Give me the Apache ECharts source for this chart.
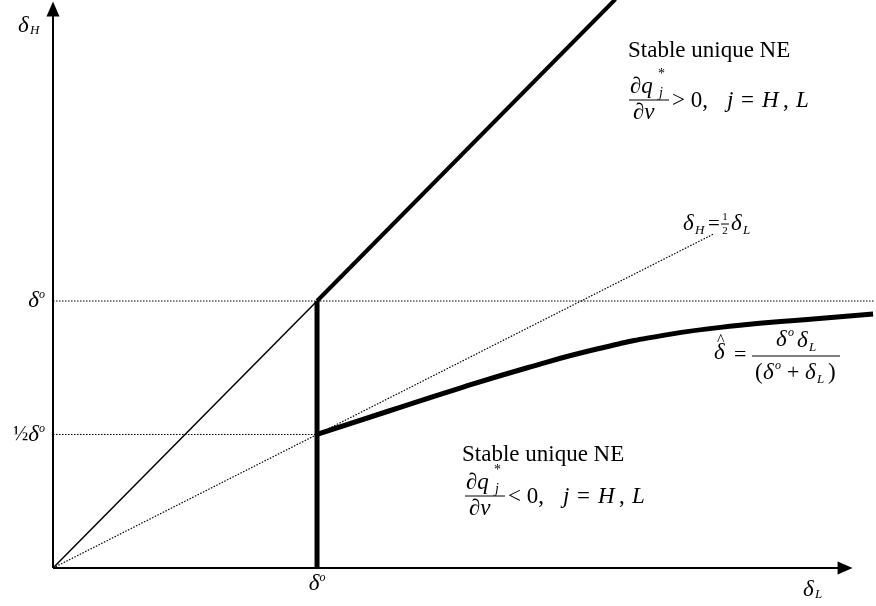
<!DOCTYPE html>
<html>
<head>
<meta charset="utf-8">
<script src="https://cdn.jsdelivr.net/npm/echarts@6/dist/echarts.min.js"></script>
<style>
  html, body { margin: 0; padding: 0; background: #fff; }
  #box { width: 876px; height: 606px; }
</style>
</head>
<body>
<div id="box"></div>
<script>
var mychart = echarts.init(document.getElementById("box"));

// data units: delta-o = 1
var diagThin = [[0, 0], [1, 1]];
var diagThick = [[1, 1], [2.13, 2.13]];
var halfLine = [[0, 0], [2.5, 1.25]];
var levelOne = [[0, 1], [3.11, 1]];
var levelHalf = [[0, 0.5], [1, 0.5]];
var wall = [[1, 0], [1, 1]];
var curveL = [1.0, 1.272, 1.536, 1.8, 2.064, 2.328, 2.592, 2.857, 3.106];
var curveH = [0.5, 0.588, 0.672, 0.751, 0.821, 0.874, 0.908, 0.931, 0.951];
var xArrowEnd = 3.0;
var yArrowEnd = 2.094;
var xTickLabels = { 1: '{d|δ}{o|o}' };
var yTickLabels = { 0.5: '{f|½}{d|δ}{o|o}', 1: '{d|δ}{o|o}' };

var curve = curveL.map(function (v, i) { return [v, curveH[i]]; });

var serif = 'Liberation Serif';
var tickRich = {
    d: { fontFamily: serif, fontStyle: 'italic', fontSize: 23, lineHeight: 24, color: '#000' },
    o: { fontFamily: serif, fontStyle: 'italic', fontSize: 12, lineHeight: 24, verticalAlign: 'top', color: '#000' },
    f: { fontFamily: serif, fontSize: 20, lineHeight: 24, color: '#000' }
};

function txt(x, y, text, size, italic, align) {
    return {
        type: 'text', x: x, y: y, silent: true,
        style: {
            text: text, fill: '#000', fontFamily: serif, fontSize: size,
            fontStyle: italic ? 'italic' : 'normal',
            align: align || 'left', verticalAlign: 'middle'
        }
    };
}
function bar(x1, x2, y) {
    return { type: 'line', silent: true, shape: { x1: x1, y1: y, x2: x2, y2: y }, style: { stroke: '#000', lineWidth: 1 } };
}
// partial derivative block, shifted by (dx, dy)
function neBlock(dx, dy, sign) {
    return [
        txt(630 + dx, 87 + dy, '∂q', 23, true), txt(658 + dx, 74 + dy, '*', 14, false), txt(659 + dx, 93 + dy, 'j', 14, true),
        bar(629 + dx, 669 + dx, 100 + dy),
        txt(633 + dx, 113 + dy, '∂v', 23, true),
        txt(672 + dx, 101 + dy, sign + ' 0,', 23, false),
        txt(727 + dx, 101 + dy, 'j', 23, true), txt(741 + dx, 101 + dy, '=', 23, false),
        txt(762 + dx, 101 + dy, 'H', 23, true), txt(783 + dx, 101 + dy, ',', 23, false),
        txt(796 + dx, 101 + dy, 'L', 23, true)
    ];
}

function lineSeries(data, width, type) {
    return {
        type: 'line', data: data, symbol: 'none', silent: true,
        lineStyle: { color: '#000', width: width, type: type || 'solid' }
    };
}

var options = {
    animation: false,
    grid: { left: 53, right: 0, top: 0, bottom: 38 },
    xAxis: {
        type: 'value', min: 0, max: 3.1057, interval: 1,
        axisLine: { show: false },
        axisTick: { show: false },
        splitLine: { show: false },
        axisLabel: { margin: 4, formatter: function (v) { return xTickLabels[v] || ''; }, rich: tickRich }
    },
    yAxis: {
        type: 'value', min: 0, max: 2.1273, interval: 0.5,
        axisLine: { show: false },
        axisTick: { show: false },
        splitLine: { show: false },
        axisLabel: { margin: 8, formatter: function (v) { return yTickLabels[v] || ''; }, rich: tickRich }
    },
    series: [
        lineSeries(diagThin, 1.5),
        lineSeries(diagThick, 4),
        lineSeries(halfLine, 1.2, [1.5, 1.5]),
        lineSeries(levelOne, 1.2, [1.5, 1.5]),
        lineSeries(levelHalf, 1.2, [1.5, 1.5]),
        lineSeries(wall, 5),
        Object.assign(lineSeries(curve, 5), { smooth: 0.5 }),
        {
            type: 'line', data: [], silent: true,
            markLine: {
                silent: true, animation: false,
                symbol: ['none', 'triangle'], symbolSize: [13, 15],
                label: { show: false },
                lineStyle: { color: '#000', width: 2, type: 'solid' },
                emphasis: { disabled: true },
                data: [
                    [{ coord: [0, 0] }, { coord: [xArrowEnd, 0] }],
                    [{ coord: [0, 0] }, { coord: [0, yArrowEnd] }]
                ]
            }
        }
    ],
    graphic: [].concat(
        [
            // axis names
            txt(18, 26, 'δ', 23, true), txt(30, 31, 'H', 13, true),
            txt(803, 590, 'δ', 23, true), txt(815, 595, 'L', 13, true),
            // titles
            txt(628, 51, 'Stable unique NE', 23, false),
            txt(462, 455, 'Stable unique NE', 23, false),
            // half line label
            txt(683, 224, 'δ', 23, true), txt(695, 231, 'H', 13, true),
            txt(708, 224, '=', 21, false),
            txt(725, 217, '1', 11, false, 'center'), bar(721, 729, 224), txt(725, 231, '2', 11, false, 'center'),
            txt(731, 224, 'δ', 23, true), txt(743, 231, 'L', 13, true),
            // curve label
            txt(714, 353, 'δ', 23, true), txt(717, 341, '^', 16, false),
            txt(734, 355, '=', 22, false),
            txt(776, 340, 'δ', 23, true), txt(788, 333, 'o', 12, true),
            txt(797, 341, 'δ', 23, true), txt(809, 348, 'L', 13, true),
            bar(752, 840, 356),
            txt(755, 373, '(', 23, false), txt(763, 373, 'δ', 23, true), txt(775, 366, 'o', 12, true),
            txt(787, 373, '+', 22, false), txt(805, 373, 'δ', 23, true), txt(817, 380, 'L', 13, true),
            txt(828, 373, ')', 23, false)
        ],
        neBlock(0, 0, '>'),
        neBlock(-164, 396, '<')
    )
};

mychart.setOption(options);
</script>
</body>
</html>
